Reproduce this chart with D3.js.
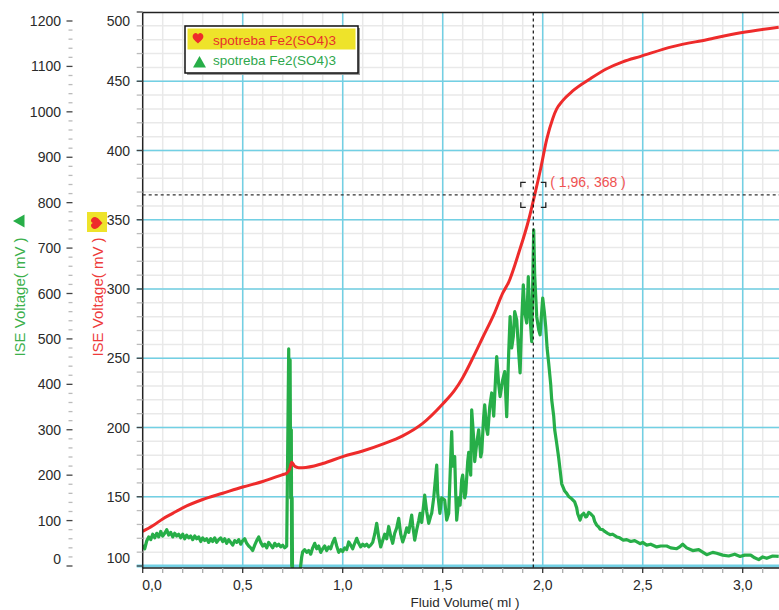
<!DOCTYPE html>
<html lang="en">
<head>
<meta charset="utf-8">
<title>ISE Voltage</title>
<script src="https://cdn.jsdelivr.net/npm/d3@7"></script>
<style>
  body { margin: 0; background: #fff; }
  svg text { font-family: 'Liberation Sans', Arial, sans-serif; }
</style>
</head>
<body>
<div id="chart"></div>
<script>
// red series, inner axis
var redX = [0.00,0.05,0.10,0.15,0.20,0.30,0.40,0.50,0.60,0.70,0.72,0.735,0.745,0.76,0.78,0.80,0.90,1.00,1.10,1.20,1.30,1.40,1.50,1.56,1.60,1.66,1.70,1.76,1.80,1.83,1.88,1.93,1.96,1.99,2.02,2.05,2.07,2.10,2.15,2.24,2.32,2.40,2.49,2.65,2.82,2.99,3.18];
var redY = [125,129,134,138,142,148,152.5,157,161,166,167,170,175,172,171,171,174,179,183,188,194,203,217,227,236,253,265,283,297,305,326,350,368,387,408,423,430,436,443,452,459,464,468,475,480,485,489];

// green series, outer axis (noisy trace read point by point)
var greenX = [0.00,0.01,0.02,0.03,0.04,0.05,0.06,0.07,0.08,0.09,0.10,0.11,0.12,0.13,0.14,0.15,0.16,0.17,0.18,0.19,0.20,0.21,0.22,0.23,0.24,0.25,0.26,0.27,0.28,0.29,0.30,0.31,0.32,0.33,0.34,0.35,0.36,0.37,0.38,0.39,0.40,0.41,0.42,0.43,0.44,0.45,0.46,0.47,0.48,0.49,0.50,0.51,0.52,0.53,0.54,0.55,0.56,0.57,0.58,0.59,0.60,0.61,0.62,0.63,0.64,0.65,0.66,0.67,0.68,0.69,0.70,0.71,0.72,
  0.726,0.730,0.734,0.737,0.740,0.743,0.745,0.747,0.749,0.787,0.795,
  0.80,0.81,0.82,0.83,0.84,0.85,0.86,0.87,0.88,0.89,0.90,0.91,0.92,0.93,0.94,0.95,0.96,0.97,0.98,0.99,1.00,1.01,1.02,1.03,1.04,1.05,1.06,1.07,1.08,1.09,1.10,1.11,1.12,1.13,1.14,1.15,1.16,1.17,1.18,1.19,1.20,1.21,1.22,1.23,1.24,1.25,1.26,1.27,1.28,1.29,1.30,1.31,1.32,1.33,1.34,1.345,1.35,1.36,1.37,1.38,1.387,1.395,
  1.41,1.42,1.43,1.44,1.445,1.455,1.47,1.475,1.486,1.495,1.51,1.52,1.53,1.545,1.55,1.56,1.565,1.57,1.58,1.587,1.595,1.60,1.61,1.615,1.625,1.63,1.64,1.645,1.655,1.66,1.67,1.68,1.69,1.695,1.705,1.71,1.72,1.725,1.735,1.745,1.755,1.765,1.77,1.78,1.787,1.80,1.81,1.82,1.83,1.837,1.845,1.853,1.86,1.87,1.88,1.887,1.895,1.903,1.91,1.92,1.928,1.935,1.945,1.95,1.955,1.96,1.97,1.98,1.987,1.995,
  2.00,2.008,2.015,2.022,2.03,2.04,2.045,2.055,2.06,2.07,2.08,2.09,2.095,2.11,2.12,2.13,2.145,2.16,2.17,2.175,2.187,2.195,2.205,2.215,2.22,2.23,2.24,2.253,2.26,2.27,2.28,2.287,2.30,2.31,2.325,2.337,2.35,2.37,2.385,2.403,2.42,2.44,2.46,2.487,2.50,2.52,2.54,2.57,2.59,2.62,2.64,2.67,2.685,2.70,2.72,2.75,2.78,2.82,2.85,2.87,2.90,2.93,2.96,2.987,3.01,3.04,3.06,3.08,3.10,3.12,3.15,3.18];
var greenY = [46,38,55,64,58,70,62,72,64,76,66,72,80,68,74,64,72,66,70,62,70,60,68,62,66,58,66,60,64,54,62,56,60,52,60,54,62,52,58,62,54,60,50,58,52,46,56,52,58,48,56,60,50,44,40,34,46,56,64,52,44,48,40,52,46,40,50,44,48,42,46,40,44,
  300,478,250,454,150,300,0,150,-10,-10,20,
  31,36,30,34,26,40,50,38,44,30,38,44,34,42,38,52,61,44,30,36,32,40,36,53,46,38,50,61,50,42,48,44,48,42,46,52,70,94,64,42,56,70,60,87,66,50,72,84,105,70,53,66,84,74,100,112,90,57,80,100,116,96,
  156,120,94,110,116,150,222,160,116,150,145,101,116,296,220,241,160,101,150,134,190,200,150,160,230,250,200,344,280,230,270,300,240,250,330,355,300,290,350,381,330,420,461,400,373,410,428,329,470,549,480,505,560,542,470,425,540,619,560,535,637,560,494,620,740,640,549,520,509,560,
  590,560,527,480,446,400,366,330,300,270,238,200,181,165,160,153,148,141,128,115,101,112,116,108,109,118,115,109,98,90,86,81,80,76,72,69,70,64,62,57,58,54,56,49,52,46,48,42,44,44,40,38,42,48,40,34,36,25,30,28,24,22,26,21,24,24,18,14,20,17,22,21];

var xTicks = [0, 0.5, 1, 1.5, 2, 2.5, 3];
var redTicks = [100, 150, 200, 250, 300, 350, 400, 450, 500];
var greenTicks = [0, 100, 200, 300, 400, 500, 600, 700, 800, 900, 1000, 1100, 1200];
var seriesNames = ["spotreba Fe2(SO4)3", "spotreba Fe2(SO4)3"];
var cursor = [1.953, 368];
var cursorLabel = "( 1,96, 368 )";

var W = 779, H = 610;
var pLeft = 142.7, pTop = 12.5, pBottom = 568, pRight = W;
var RED = "#ee2b2b", GREEN = "#27ae48", CYAN = "#72d0e4", MINOR = "#e9e9e9";

var x = d3.scaleLinear().domain([0, 3.2]).range([pLeft, pLeft + 640]);
var yRed = d3.scaleLinear().domain([100, 500]).range([566, 12]);
var yGreen = d3.scaleLinear().domain([0, 1200]).range([566, 21]);

var svg = d3.select("#chart").append("svg").attr("width", W).attr("height", H);

svg.append("clipPath").attr("id", "plotclip").append("rect")
    .attr("x", pLeft).attr("y", pTop).attr("width", pRight - pLeft).attr("height", pBottom - pTop);

var grid = svg.append("g");
// minor grid
grid.selectAll(".vx").data(d3.range(1, 32).map(d => d / 10)).enter().append("line")
    .attr("x1", d => x(d)).attr("x2", d => x(d)).attr("y1", pTop).attr("y2", pBottom)
    .style("stroke", MINOR).style("stroke-width", 1.5);
grid.selectAll(".hy").data(d3.range(110, 500, 10)).enter().append("line")
    .attr("x1", pLeft).attr("x2", pRight).attr("y1", d => yRed(d)).attr("y2", d => yRed(d))
    .style("stroke", MINOR).style("stroke-width", 1.5);
// major grid
grid.selectAll(".mx").data(xTicks.slice(1)).enter().append("line")
    .attr("x1", d => x(d)).attr("x2", d => x(d)).attr("y1", pTop).attr("y2", pBottom)
    .style("stroke", CYAN).style("stroke-width", 1.5);
grid.selectAll(".my").data(redTicks.slice(0, -1)).enter().append("line")
    .attr("x1", pLeft - 6).attr("x2", pRight).attr("y1", d => yRed(d)).attr("y2", d => yRed(d))
    .style("stroke", CYAN).style("stroke-width", d => d === 100 ? 3 : 1.5);

// curves
var plot = svg.append("g").attr("clip-path", "url(#plotclip)");
plot.append("path")
    .datum(greenX.map((d, i) => [d, greenY[i]]))
    .attr("d", d3.line().x(d => x(d[0])).y(d => yGreen(d[1])))
    .style("fill", "none").style("stroke", GREEN).style("stroke-width", 3.2).style("stroke-linejoin", "round");
plot.append("path")
    .datum(redX.map((d, i) => [d, redY[i]]))
    .attr("d", d3.line().curve(d3.curveMonotoneX).x(d => x(d[0])).y(d => yRed(d[1])))
    .style("fill", "none").style("stroke", RED).style("stroke-width", 3);

// frame
svg.append("line").attr("x1", pLeft).attr("x2", pRight).attr("y1", pTop).attr("y2", pTop)
    .style("stroke", "#222").style("stroke-width", 1.5);
svg.append("line").attr("x1", pLeft).attr("x2", pLeft).attr("y1", pTop).attr("y2", pBottom + 1)
    .style("stroke", "#222").style("stroke-width", 1.5);
svg.append("line").attr("x1", pLeft).attr("x2", pRight).attr("y1", pBottom).attr("y2", pBottom)
    .style("stroke", "#222").style("stroke-width", 1.5);

// x axis
var ax = svg.append("g");
ax.selectAll(".t").data(d3.range(0, 32).map(d => d / 10)).enter().append("line")
    .attr("x1", d => x(d)).attr("x2", d => x(d)).attr("y1", pBottom).attr("y2", pBottom + 5)
    .style("stroke", (d, i) => i % 5 === 0 ? "#333" : "#aaa").style("stroke-width", 1.3);
ax.selectAll("text").data(xTicks).enter().append("text")
    .attr("x", d => Math.max(x(d), 152)).attr("y", 590)
    .attr("text-anchor", "middle").style("font-size", "14px").style("fill", "#2a2a2a")
    .text(d => d3.format(".1f")(d).replace(".", ","));
svg.append("text").attr("x", 465).attr("y", 607).attr("text-anchor", "middle")
    .style("font-size", "13.5px").style("fill", "#2a2a2a").text("Fluid Volume( ml )");

// red axis
var ar = svg.append("g");
ar.selectAll("line").data(d3.range(100, 501, 10)).enter().append("line")
    .attr("x1", pLeft - 6).attr("x2", pLeft).attr("y1", d => yRed(d)).attr("y2", d => yRed(d))
    .style("stroke", d => d % 50 === 0 ? "#444" : "#bbb").style("stroke-width", 1.3);
ar.selectAll("text").data(redTicks).enter().append("text")
    .attr("x", 130).attr("y", d => Math.min(Math.max(yRed(d), 21), 558) + 5)
    .attr("text-anchor", "end").style("font-size", "14px").style("fill", "#2a2a2a")
    .text(d => d);

// green axis
var ag = svg.append("g");
ag.selectAll("line").data(d3.range(0, 1201, 20)).enter().append("line")
    .attr("x1", d => d % 100 === 0 ? 66.5 : 68.5).attr("x2", 72.5)
    .attr("y1", d => yGreen(d)).attr("y2", d => yGreen(d))
    .style("stroke", d => d % 100 === 0 ? "#444" : "#bbb").style("stroke-width", 1.3);
ag.selectAll("text").data(greenTicks).enter().append("text")
    .attr("x", 61).attr("y", d => Math.min(Math.max(yGreen(d), 21), 559) + 5)
    .attr("text-anchor", "end").style("font-size", "14px").style("fill", "#2a2a2a")
    .text(d => d);

var heart = "M0,5.5 C-2,3.5 -6,0.5 -6,-2 C-6,-4.5 -4,-6 -2.5,-6 C-1.2,-6 -0.4,-5.2 0,-4.2 C0.4,-5.2 1.2,-6 2.5,-6 C4,-6 6,-4.5 6,-2 C6,0.5 2,3.5 0,5.5 Z";
var tri = "M0,-6 L6.5,5.5 L-6.5,5.5 Z";

// axis titles
svg.append("text").attr("transform", "translate(25,297) rotate(-90)").attr("text-anchor", "middle")
    .style("font-size", "15px").style("fill", "#3cb04c").text("ISE Voltage( mV )");
svg.append("path").attr("d", tri).attr("transform", "translate(19,221) rotate(-90)").style("fill", GREEN);
svg.append("text").attr("transform", "translate(103,297) rotate(-90)").attr("text-anchor", "middle")
    .style("font-size", "15px").style("fill", "#ee3b3b").text("ISE Voltage( mV )");
svg.append("rect").attr("x", 87).attr("y", 212).attr("width", 20).attr("height", 20).style("fill", "#eee32a");
svg.append("path").attr("d", heart).attr("transform", "translate(97,223) rotate(-90)").style("fill", RED);

// cursor
var cx = x(cursor[0]), cy = yRed(cursor[1]);
svg.append("line").attr("x1", cx).attr("x2", cx).attr("y1", pTop).attr("y2", pBottom)
    .style("stroke", "#111").style("stroke-width", 1.2).style("stroke-dasharray", "3,3");
svg.append("line").attr("x1", pLeft).attr("x2", pRight).attr("y1", cy).attr("y2", cy)
    .style("stroke", "#333").style("stroke-width", 1.2).style("stroke-dasharray", "3,3");
var b = 12.5, arm = 5;
[[-1, -1], [1, -1], [-1, 1], [1, 1]].forEach(function(c) {
    var px = cx + c[0] * b, py = cy + c[1] * b;
    svg.append("path")
        .attr("d", "M" + (px - c[0] * arm) + "," + py + "L" + px + "," + py + "L" + px + "," + (py - c[1] * arm))
        .style("fill", "none").style("stroke", "#222").style("stroke-width", 1.3);
});
svg.append("text").attr("x", cx + 17).attr("y", cy - 8).style("font-size", "14px")
    .style("fill", "#f05252").text(cursorLabel);

// legend
var lg = svg.append("g");
lg.append("rect").attr("x", 187).attr("y", 28).attr("width", 173).attr("height", 47).style("fill", "#999");
lg.append("rect").attr("x", 185).attr("y", 26).attr("width", 173).attr("height", 47)
    .style("fill", "#fff").style("stroke", "#111").style("stroke-width", 1.5);
lg.append("rect").attr("x", 187.5).attr("y", 28.5).attr("width", 168).attr("height", 21).style("fill", "#eee32a");
lg.append("path").attr("d", heart).attr("transform", "translate(198,38.5) scale(0.9)").style("fill", RED);
lg.append("path").attr("d", tri).attr("transform", "translate(199.5,62)").style("fill", GREEN);
lg.selectAll("text").data(seriesNames).enter().append("text")
    .attr("x", 213).attr("y", (d, i) => 45 + i * 19.5)
    .style("font-size", "13.5px").style("fill", (d, i) => i === 0 ? "#e8302a" : "#2ea84c")
    .text(d => d);
</script>
</body>
</html>
